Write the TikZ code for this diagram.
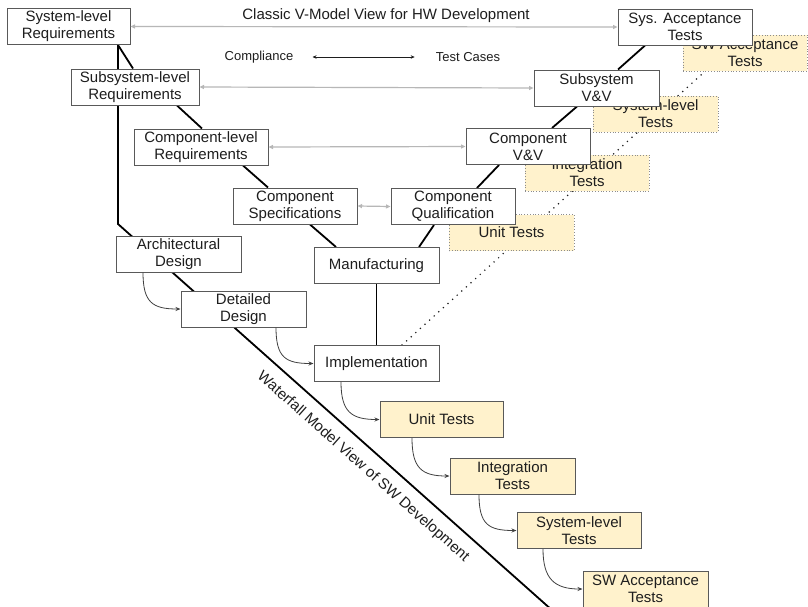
\documentclass[tikz,border=0pt]{standalone}
\usepackage{fontspec}
\setmainfont{Liberation Sans}
\usetikzlibrary{arrows.meta,calc}
\pgfdeclarelayer{bg}
\pgfsetlayers{bg,main}

\definecolor{boxline}{HTML}{595959}
\definecolor{testfill}{HTML}{FFF2CC}
\definecolor{linkgray}{HTML}{B7B7B7}
\definecolor{dotline}{HTML}{8C8C8C}
\definecolor{ink}{HTML}{1E1E1E}

\begin{document}
\begin{tikzpicture}[x=1pt,y=-1pt,
  every node/.style={font=\fontsize{15}{17}\selectfont, text=ink, align=center, inner sep=0pt},
  hwbox/.style={draw=boxline, line width=1pt, fill=white, minimum width=#1, minimum height=36pt},
  hwbox/.default=125pt,
  swbox/.style={draw=boxline, line width=1pt, fill=testfill, minimum width=#1, minimum height=36pt},
  swbox/.default=125pt,
  ghostbox/.style={draw=dotline, dotted, line width=0.8pt, fill=testfill, minimum width=#1, minimum height=36pt},
  ghostbox/.default=125pt,
  vline/.style={draw=black, line width=1.8pt},
  trace/.style={draw=linkgray, line width=1.2pt, {Triangle[length=4.5pt,width=4pt]}-{Triangle[length=4.5pt,width=4pt]}},
  flow/.style={draw=ink!85, line width=0.8pt, -{Stealth[length=5pt,width=4pt]}},
  dotlink/.style={draw=ink, line width=1.7pt, line cap=round, dash pattern=on 0pt off 6.2pt},
  note/.style={font=\fontsize{13}{15}\selectfont}
]
\useasboundingbox (0,0) rectangle (808,606);
\clip (0,0) rectangle (808,606);

% software test stages echoed along the right leg of the V
\node[ghostbox=124pt] (swat2) at (745,53) {SW Acceptance\\Tests};
\node[ghostbox] (st2) at (655.5,114) {System-level\\Tests};
\node[ghostbox=124pt] (it2) at (587,173) {Integration\\Tests};
\node[ghostbox] (ut2) at (511.5,232.5) {Unit Tests};

% hardware V-model
\node[hwbox=123pt] (sysreq) at (68.5,26.5) {System-level\\Requirements};
\node[hwbox=128pt] (subreq) at (135,87) {Subsystem-level\\Requirements};
\node[hwbox=134pt] (compreq) at (201,147) {Component-level\\Requirements};
\node[hwbox=124pt] (compspec) at (295,206) {Component\\Specifications};
\node[hwbox] (manuf) at (376.5,265.5) {Manufacturing};
\node[hwbox=124pt] (compqual) at (453,206.5) {Component\\Qualification};
\node[hwbox=124pt] (compvv) at (528,146.5) {Component\\V\&V};
\node[hwbox] (subvv) at (596.5,88) {Subsystem\\V\&V};
\node[hwbox=134pt] (sysacc) at (685,27) {Sys. Acceptance\\Tests};

% software waterfall
\node[hwbox] (arch) at (178.5,254) {Architectural\\Design};
\node[hwbox] (detail) at (243.5,309) {Detailed\\Design};
\node[hwbox] (impl) at (376.5,363.5) {Implementation};
\node[swbox=123pt] (ut) at (441.5,419.5) {Unit Tests};
\node[swbox] (it) at (512.5,476) {Integration\\Tests};
\node[swbox=124pt] (st) at (579,530.5) {System-level\\Tests};
\node[swbox] (swat) at (645.5,589) {SW Acceptance\\Tests};

% captions
\node (title) at (386,16) {Classic V-Model View for HW Development};
\node[note] (compl) at (259,57) {Compliance};
\node[note] (tcases) at (468,57) {Test Cases};
\node[rotate=-41.6] (wlabel) at (363,467) {Waterfall Model View of SW Development};

\coordinate (wbend) at (118,224);
\coordinate (wend) at (553,611);

\begin{pgfonlayer}{bg}
  \fill[white] (0,0) rectangle (808,606);
  % legs of the V
  \draw[vline] ([xshift=49.5pt]sysreq.south) -- ([xshift=-2pt]subreq.north);
  \draw[vline] ([xshift=42pt]subreq.south) -- ([xshift=1pt]compreq.north);
  \draw[vline] ([xshift=42pt]compreq.south) -- ([xshift=-27pt]compspec.north);
  \draw[vline] ([xshift=15pt]compspec.south) -- ([xshift=-40.5pt]manuf.north);
  \draw[vline] ([xshift=42.5pt]manuf.north) -- ([xshift=-19pt]compqual.south);
  \draw[vline] ([xshift=24pt]compqual.north) -- ([xshift=-29pt]compvv.south);
  \draw[vline] ([xshift=24pt]compvv.north) -- ([xshift=-19.5pt]subvv.south);
  \draw[vline] ([xshift=21.5pt]subvv.north) -- ([xshift=-40pt]sysacc.south);
  \draw[vline] (manuf.south) -- (impl.north);
  % waterfall axis
  \draw[vline] ([xshift=49.5pt]sysreq.south) -- (wbend) -- (wend);
  % software tests mapped onto the V
  \draw[dotlink] ([xshift=25.5pt]impl.north) -- ([xshift=-40pt]swat2.south);
\end{pgfonlayer}

% traceability between the two legs
\draw[trace] (sysreq.east) -- (sysacc.west);
\draw[trace] (subreq.east) -- (subvv.west);
\draw[trace] (compreq.east) -- (compvv.west);
\draw[trace] (compspec.east) -- (compqual.west);
\draw[draw=ink, line width=0.8pt, {Stealth[length=4pt,width=3.5pt]}-{Stealth[length=4pt,width=3.5pt]}, shorten <=19pt, shorten >=21pt] (compl.east) -- (tcases.west);

% waterfall hand-offs
\draw[flow] ([xshift=-35.5pt]arch.south) .. controls +(0,30) and +(-28,0) .. (detail.west);
\draw[flow] ([xshift=32.5pt]detail.south) .. controls +(0,30) and +(-28,0) .. (impl.west);
\draw[flow] ([xshift=-35.5pt]impl.south) .. controls +(0,30) and +(-28,0) .. (ut.west);
\draw[flow] ([xshift=-29.5pt]ut.south) .. controls +(0,30) and +(-28,0) .. (it.west);
\draw[flow] ([xshift=-33.5pt]it.south) .. controls +(0,30) and +(-28,0) .. (st.west);
\draw[flow] ([xshift=-36pt]st.south) .. controls +(0,30) and +(-28,0) .. (swat.west);
\end{tikzpicture}
\end{document}
